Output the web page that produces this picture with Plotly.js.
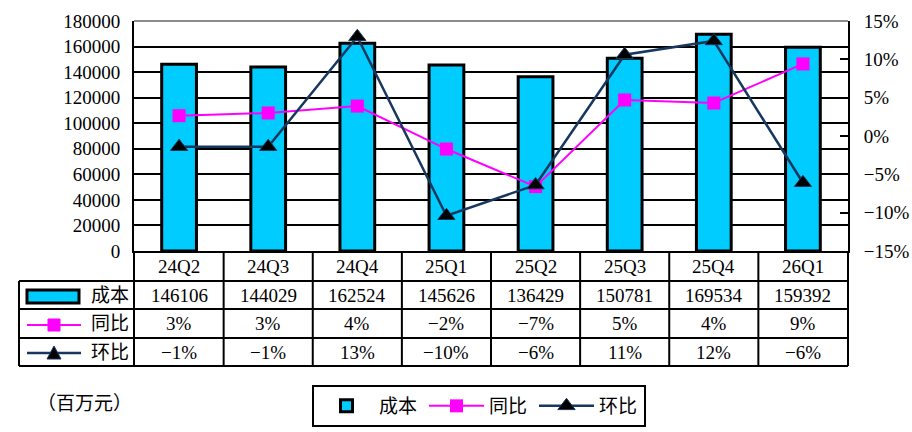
<!DOCTYPE html>
<html>
<head>
<meta charset="utf-8">
<script src="https://cdn.plot.ly/plotly-3.0.1.min.js"></script>
<style>
	html, body { margin: 0; padding: 0; background: #fff; }
	#chart { width: 912px; height: 432px; }
</style>
</head>
<body>
<div id="chart"></div>
<script>
// --- DATA ---
const quarters = ['24Q2', '24Q3', '24Q4', '25Q1', '25Q2', '25Q3', '25Q4', '26Q1'];
const cost = [146106, 144029, 162524, 145626, 136429, 150781, 169534, 159392];
const yoy = [2.65, 3.0, 3.9, -1.7, -6.6, 4.7, 4.3, 9.4];      // 同比 (%)
const qoq = [-1.4, -1.4, 12.95, -10.4, -6.4, 10.6, 12.4, -6.1]; // 环比 (%)
const seriesNames = ['成本', '同比', '环比'];
const unitLabel = '（百万元）';

// --- STYLE ---
const FONT = "'Liberation Serif', 'Noto Sans CJK SC', serif";
const CYAN = '#00CCFF';
const MAGENTA = '#FF00FF';
const NAVY = '#17375E';

// plot area in pixels: x 134..848, y 21..251
const W = 912, H = 432;
const PL = 134, PR = 848, PT = 21, PB = 251;
const px = X => (X - PL) / (PR - PL);
const py = Y => (PB - Y) / (PB - PT);

// table rows (pixel y of borders)
const rowY = [252, 281, 309, 338, 366];
const rowMid = i => (rowY[i] + rowY[i + 1]) / 2;

const pct = v => (Math.round(v) < 0 ? '\u2212' + Math.abs(Math.round(v)) : Math.round(v)) + '%';

function line(x0, y0, x1, y1, xref, color, width) {
	return {
		type: 'line', xref: xref || 'paper', yref: 'paper',
		x0: x0, y0: y0, x1: x1, y1: y1,
		line: { color: color || '#000', width: width || 2 }, layer: 'above'
	};
}

function buildShapes() {
	const shapes = [];
	// top border of plot (grey)
	shapes.push(line(0, 1, 1, 1, 'paper', '#8c8c8c', 2));
	// horizontal table borders
	for (let r = 1; r < rowY.length; r++) shapes.push(line(px(19), py(rowY[r]), 1, py(rowY[r])));
	// left table edge (rows 2-4) and axis extensions
	shapes.push(line(px(19), py(rowY[1]), px(19), py(rowY[4])));
	shapes.push(line(0, 0, 0, py(rowY[4])));
	shapes.push(line(1, 0, 1, py(rowY[4])));
	// category separators inside table
	for (let i = 1; i < quarters.length; i++) {
		shapes.push(line(i - 0.5, 0, i - 0.5, py(rowY[4]), 'x'));
	}
	// key: bar rectangle
	shapes.push({
		type: 'rect', xref: 'paper', yref: 'paper',
		x0: px(27), x1: px(79), y0: py(290), y1: py(303),
		fillcolor: CYAN, line: { color: '#000', width: 3 }, layer: 'above'
	});
	// key: 同比 line + square
	shapes.push(line(px(27), py(325), px(81), py(325), 'paper', MAGENTA, 2));
	shapes.push({
		type: 'rect', xref: 'paper', yref: 'paper',
		x0: px(48), x1: px(60), y0: py(319), y1: py(331),
		fillcolor: MAGENTA, line: { color: MAGENTA, width: 1 }, layer: 'above'
	});
	// key: 环比 line + triangle
	shapes.push(line(px(27), py(353), px(81), py(353), 'paper', NAVY, 2.5));
	shapes.push({
		type: 'path', xref: 'paper', yref: 'paper',
		path: `M ${px(47)} ${py(359)} L ${px(61)} ${py(359)} L ${px(54)} ${py(346)} Z`,
		fillcolor: '#000', line: { color: NAVY, width: 1 }, layer: 'above'
	});
	return shapes;
}

function buildAnnotations() {
	const ann = [];
	const cell = (x, xref, y, text) => ({
		x: x, xref: xref, y: py(y), yref: 'paper', text: text,
		showarrow: false, xanchor: 'center', yanchor: 'middle',
		font: { family: FONT, size: 19, color: '#000' }
	});
	quarters.forEach((q, i) => {
		ann.push(cell(q, 'x', rowMid(0), q));
		ann.push(cell(q, 'x', rowMid(1), String(cost[i])));
		ann.push(cell(q, 'x', rowMid(2), pct(yoy[i])));
		ann.push(cell(q, 'x', rowMid(3), pct(qoq[i])));
	});
	// row headers
	ann.push(cell(px(110), 'paper', rowMid(1), seriesNames[0]));
	ann.push(cell(px(110), 'paper', rowMid(2), seriesNames[1]));
	ann.push(cell(px(110), 'paper', rowMid(3), seriesNames[2]));
	// unit
	ann.push(cell(px(84), 'paper', 403, unitLabel));
	return ann;
}

function render() {
	const traces = [
		{
			x: quarters, y: cost, name: seriesNames[0], type: 'bar',
			marker: { color: CYAN, line: { color: '#000', width: 3 } }
		},
		{
			x: quarters, y: yoy, name: seriesNames[1], type: 'scatter', mode: 'lines+markers',
			yaxis: 'y2',
			line: { color: MAGENTA, width: 2 },
			marker: { symbol: 'square', size: 13, color: MAGENTA }
		},
		{
			x: quarters, y: qoq, name: seriesNames[2], type: 'scatter', mode: 'lines+markers',
			yaxis: 'y2',
			line: { color: NAVY, width: 2.5 },
			marker: { symbol: 'triangle-up', size: 15, color: '#000', line: { color: NAVY, width: 1 } }
		}
	];

	const layout = {
		width: W, height: H,
		margin: { l: PL, r: W - PR, t: PT, b: H - PB, autoexpand: false },
		paper_bgcolor: '#fff', plot_bgcolor: '#fff',
		font: { family: FONT, size: 19, color: '#000' },
		bargap: 0.61,
		showlegend: true,
		legend: {
			orientation: 'h',
			xref: 'container', x: 312 / W, yref: 'container', y: (H - 385) / H,
			xanchor: 'left', yanchor: 'top',
			bordercolor: '#000', borderwidth: 2, bgcolor: '#fff',
			font: { family: FONT, size: 19 }, traceorder: 'normal',
			itemwidth: 55, entrywidth: 40, entrywidthmode: 'pixels'
		},
		xaxis: {
			type: 'category', showticklabels: false, ticks: '',
			showline: true, linecolor: '#000', linewidth: 2, showgrid: false,
			fixedrange: true
		},
		yaxis: {
			range: [0, 180000], dtick: 20000, tickformat: 'd',
			showgrid: true, gridcolor: '#000', gridwidth: 2, zeroline: false,
			showline: true, linecolor: '#000', linewidth: 2,
			ticks: 'inside', ticklen: 8, tickwidth: 2, tickcolor: '#000',
			ticklabelstandoff: 8
		},
		yaxis2: {
			overlaying: 'y', side: 'right', range: [-15, 15], dtick: 5, ticksuffix: '%',
			showgrid: false, zeroline: false,
			showline: true, linecolor: '#000', linewidth: 2,
			ticks: 'inside', ticklen: 8, tickwidth: 2, tickcolor: '#000',
			ticklabelstandoff: 10
		},
		shapes: buildShapes(),
		annotations: buildAnnotations()
	};

	Plotly.newPlot('chart', traces, layout, { displayModeBar: false, staticPlot: true });
}

document.addEventListener('DOMContentLoaded', render);
</script>
</body>
</html>
